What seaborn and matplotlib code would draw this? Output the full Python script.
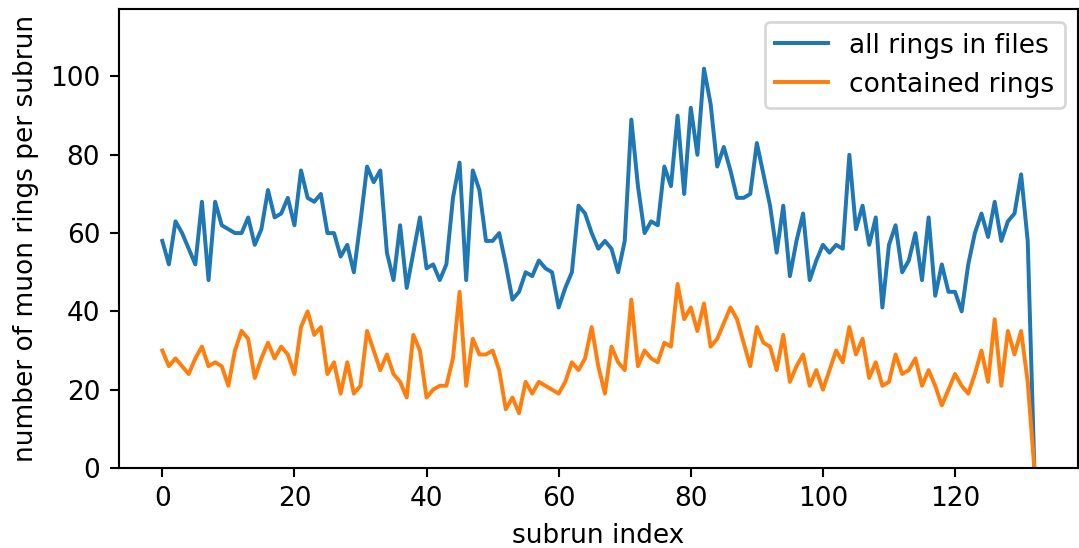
import numpy as np
import pandas as pd
import matplotlib
matplotlib.use("Agg")
import matplotlib.pyplot as plt
import seaborn as sns

# rings per subrun
all_rings = [58, 52, 63, 60, 56, 52, 68, 48, 68, 62, 61, 60, 60, 64, 57, 61, 71, 64, 65, 69,
             62, 76, 69, 68, 70, 60, 60, 54, 57, 50, 63, 77, 73, 76, 55, 48, 62, 46, 55, 64,
             51, 52, 48, 52, 69, 78, 48, 76, 71, 58, 58, 60, 52, 43, 45, 50, 49, 53, 51, 50,
             41, 46, 50, 67, 65, 60, 56, 58, 56, 50, 58, 89, 72, 60, 63, 62, 77, 72, 90, 70,
             92, 80, 102, 93, 77, 82, 76, 69, 69, 70, 83, 75, 67, 55, 67, 49, 58, 65, 48, 53,
             57, 55, 57, 56, 80, 61, 67, 57, 64, 41, 57, 62, 50, 53, 60, 48, 64, 44, 52, 45,
             45, 40, 52, 60, 65, 59, 68, 58, 63, 65, 75, 58, 0]
contained_rings = [30, 26, 28, 26, 24, 28, 31, 26, 27, 26, 21, 30, 35, 33, 23, 28, 32, 28, 31, 29,
                   24, 36, 40, 34, 36, 24, 27, 19, 27, 19, 21, 35, 30, 25, 29, 24, 22, 18, 34, 30,
                   18, 20, 21, 21, 28, 45, 21, 33, 29, 29, 30, 25, 15, 18, 14, 22, 19, 22, 21, 20,
                   19, 22, 27, 25, 28, 36, 26, 19, 31, 27, 25, 43, 26, 30, 28, 27, 32, 31, 47, 38,
                   41, 35, 42, 31, 33, 37, 41, 38, 32, 26, 36, 32, 31, 25, 34, 22, 26, 29, 21, 25,
                   20, 25, 30, 27, 36, 29, 33, 23, 27, 21, 22, 29, 24, 25, 28, 21, 25, 21, 16, 20,
                   24, 21, 19, 24, 30, 22, 38, 21, 35, 29, 35, 22, 0]
subrun = np.arange(len(all_rings))

df = pd.DataFrame({"subrun": subrun, "all": all_rings, "contained": contained_rings})

dpi = 190
fig, ax = plt.subplots(figsize=(1079 / dpi, 548 / dpi), dpi=dpi)
fig.subplots_adjust(left=0.110, right=0.999, top=0.984, bottom=0.146)

sns.lineplot(data=df, x="subrun", y="all", ax=ax, color="tab:blue", label="all rings in files")
sns.lineplot(data=df, x="subrun", y="contained", ax=ax, color="tab:orange", label="contained rings")

ax.set_ylim(0, 1.15 * max(all_rings))
ax.set_xlabel("subrun index")
ax.set_ylabel("number of muon rings per subrun")
ax.legend(loc="upper right")

fig.savefig("out.png", dpi=dpi)
